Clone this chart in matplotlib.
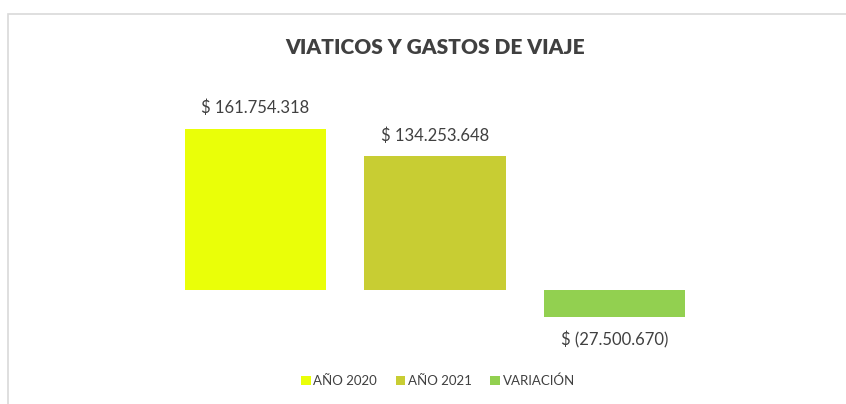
import matplotlib
matplotlib.use("Agg")
import matplotlib.pyplot as plt
from matplotlib.patches import Rectangle, Patch

# data
categories = ["AÑO 2020", "AÑO 2021", "VARIACIÓN"]
values = [161754318, 134253648, -27500670]
labels = ["$ 161.754.318", "$ 134.253.648", "$ (27.500.670)"]
colors = ["#EAFF08", "#C8CD33", "#92D050"]

TEXT = "#404040"
W, H = 846, 404

plt.rcParams["font.family"] = ["Lato", "DejaVu Sans"]

fig = plt.figure(figsize=(W / 100, H / 100), dpi=100)

# chart frame (only top and left edges visible)
fig.patches.append(Rectangle((8 / W, -0.1), 1.2, (H - 14) / H + 0.1,
                             transform=fig.transFigure, fill=False,
                             edgecolor="#D9D9D9", linewidth=1.2))

# plot area in pixels
left, right = 165.75, 704.25
ymin, ymax = -40e6, 180e6
scale = 0.996e-6  # px per unit
zero_px = 290
top_px = zero_px - ymax * scale
bot_px = zero_px - ymin * scale
ax = fig.add_axes([left / W, 1 - bot_px / H, (right - left) / W, (bot_px - top_px) / H])
ax.set_xlim(-0.5, 2.5)
ax.set_ylim(ymin, ymax)
ax.axis("off")

x = range(len(categories))
bars = ax.bar(x, values, width=0.786, color=colors)

for i, (v, lab) in enumerate(zip(values, labels)):
    off = 15 if v > 0 else -16
    ax.annotate(lab, (i, v), xytext=(0, off), textcoords="offset points",
                ha="center", va="center", fontsize=12, color=TEXT)

fig.text(435 / W, 1 - 47 / H, "VIATICOS Y GASTOS DE VIAJE", ha="center",
         va="center", fontsize=15, fontweight="heavy", color=TEXT)

handles = [Patch(facecolor=c) for c in colors]
fig.legend(handles, categories, loc="center", bbox_to_anchor=(438 / W, 1 - 381 / H),
           ncol=3, frameon=False, fontsize=9.5, handlelength=0.75, handleheight=0.75,
           handletextpad=0.2, columnspacing=1.4, labelcolor=TEXT)

fig.savefig("out.png", dpi=100)
